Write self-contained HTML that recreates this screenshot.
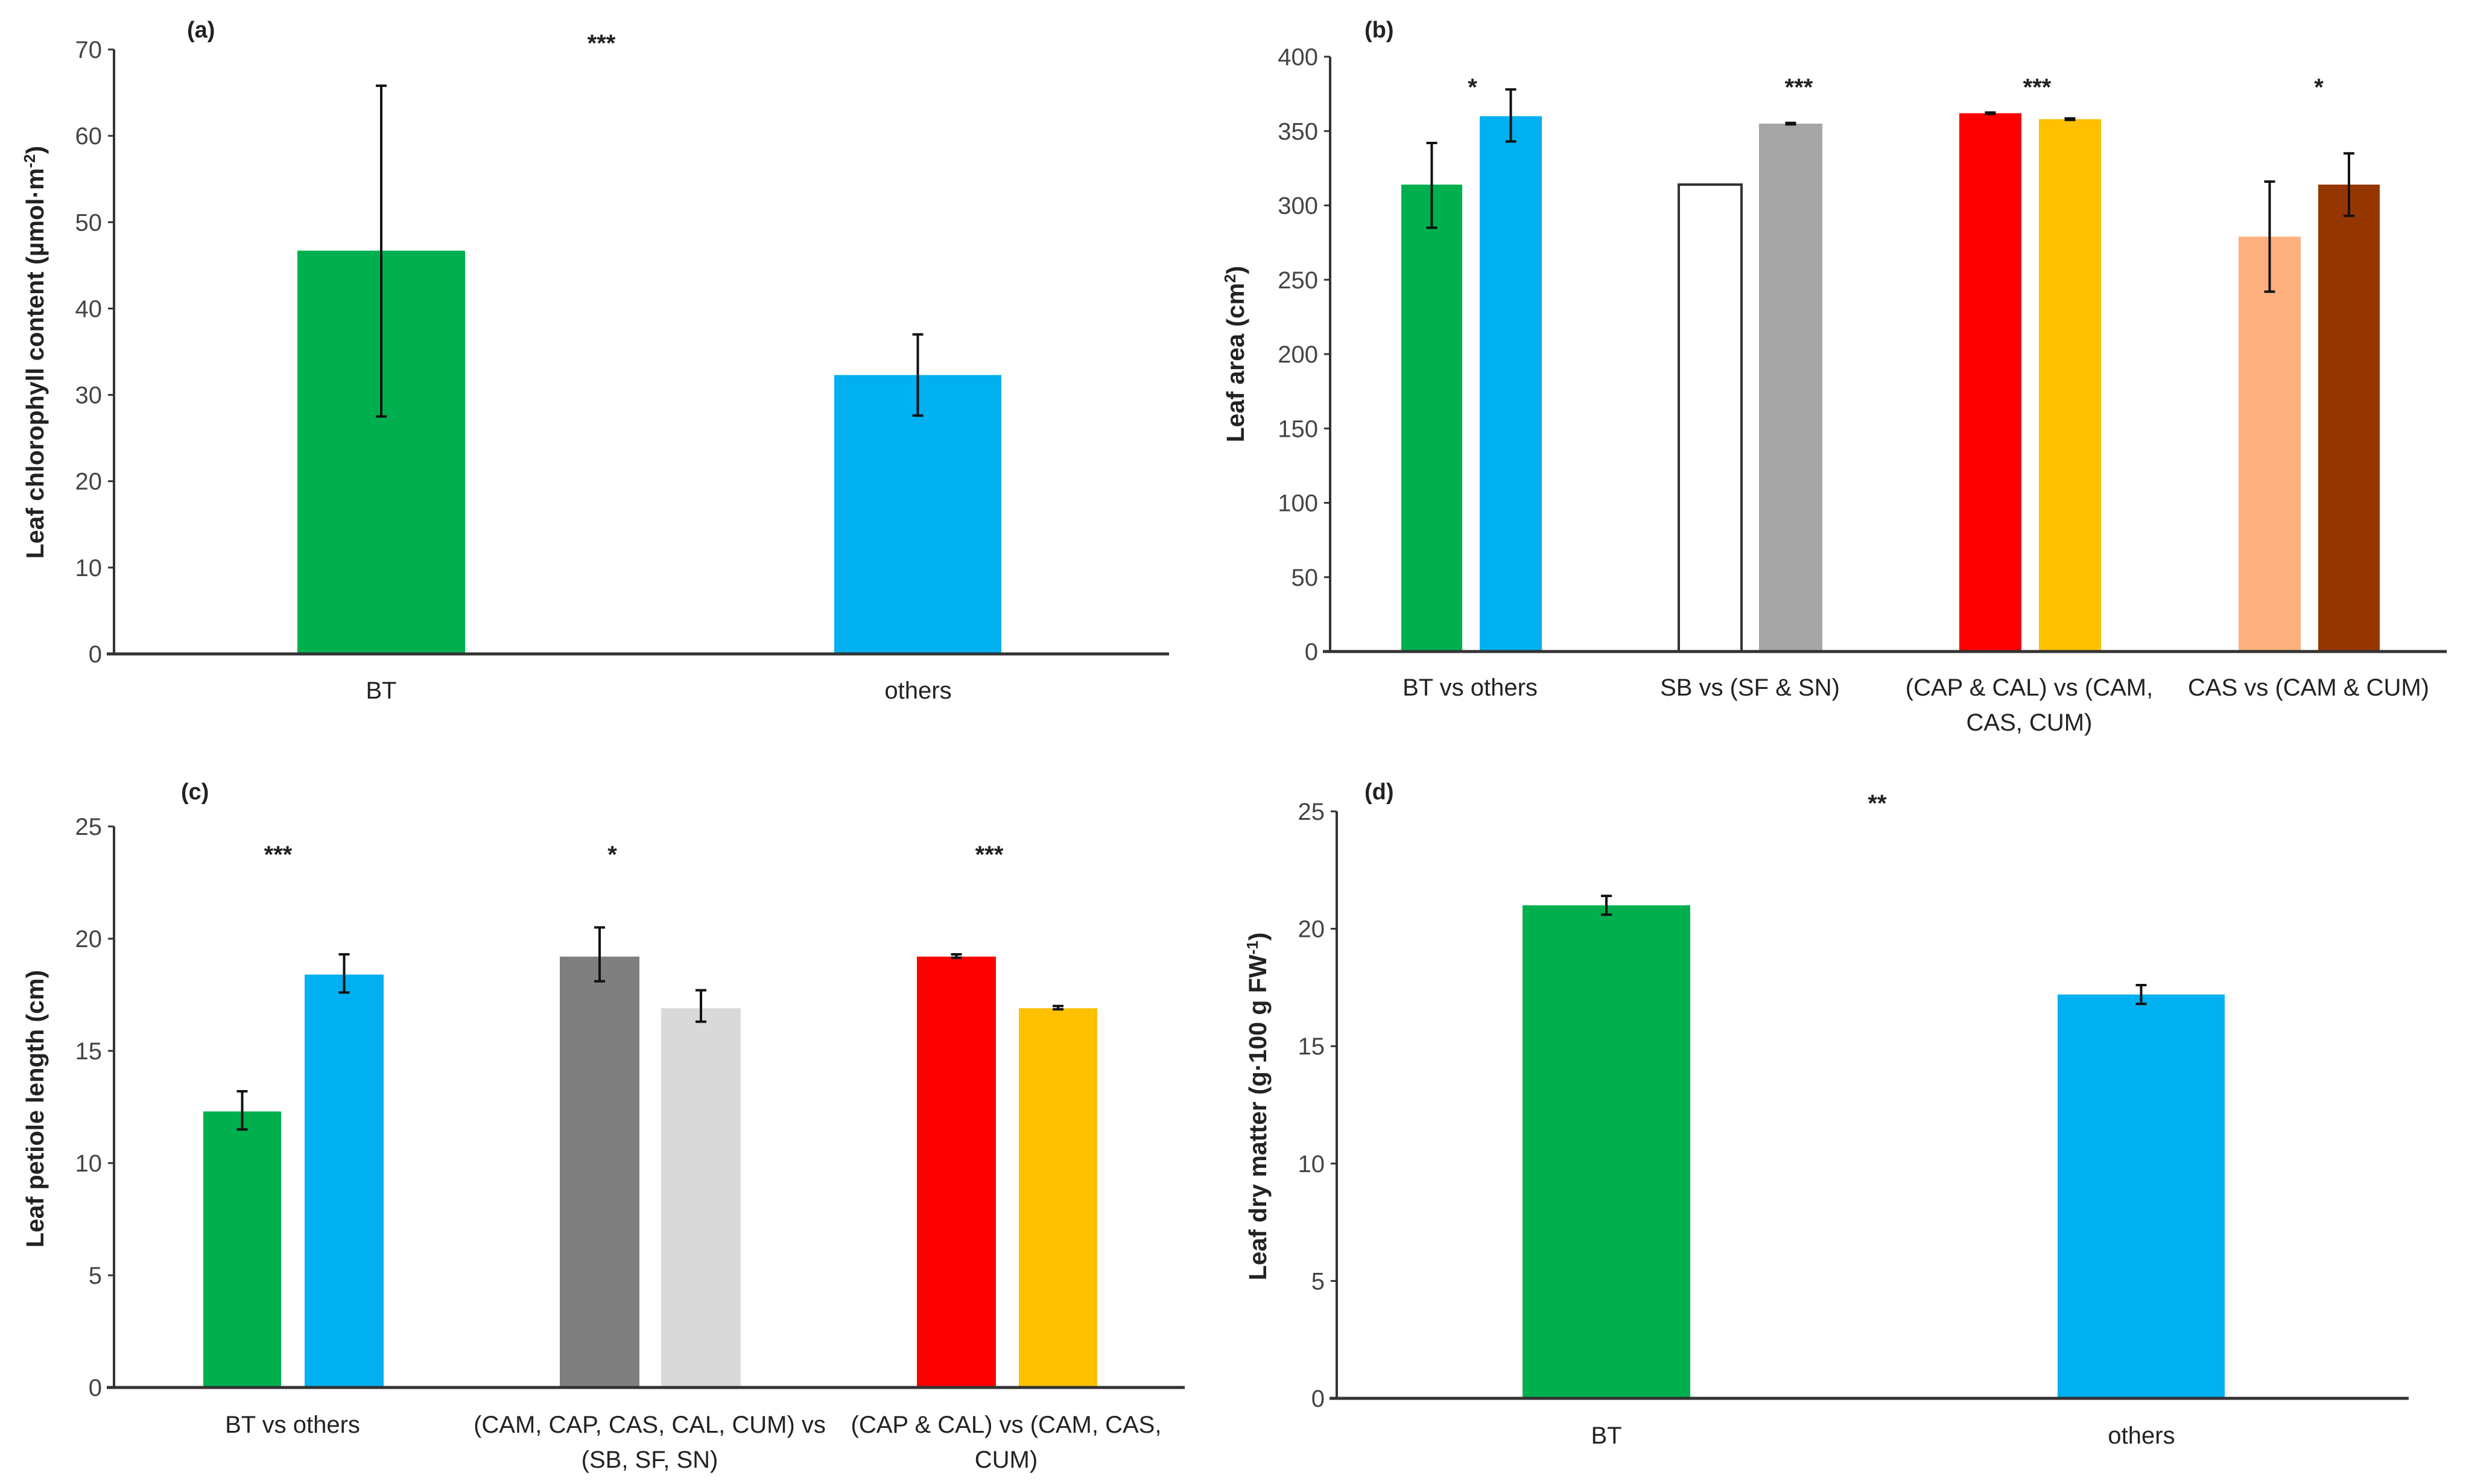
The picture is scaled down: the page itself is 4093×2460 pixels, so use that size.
<!DOCTYPE html>
<html><head><meta charset="utf-8"><style>
html,body{margin:0;padding:0;background:#fff;}
svg{display:block;}
text{font-family:"Liberation Sans Narrow","Liberation Sans",sans-serif;fill:#222;}
.tick{font-size:40px;fill:#444;}
.cat{font-size:40px;}
.ytitle{font-family:"Liberation Sans",sans-serif;font-weight:bold;font-size:41px;}
.star{font-size:40px;font-weight:bold;}
.ptitle{font-size:38px;font-weight:bold;}
</style></head><body>
<svg id="fig" width="4093" height="2460" viewBox="0 0 4093 2460" xmlns="http://www.w3.org/2000/svg"></svg>
<script>
// Panel (a)
const aCats = ["BT","others"];
const aVals = [46.7, 32.3];
const aLo = [27.5, 27.6];
const aHi = [65.8, 37.0];
const aTicks = [0,10,20,30,40,50,60,70];
// Panel (b)
const bCats = [["BT vs others"],["SB vs (SF & SN)"],["(CAP & CAL) vs (CAM,","CAS, CUM)"],["CAS vs (CAM & CUM)"]];
const bVals = [314, 360, 314, 355, 362, 358, 279, 314];
const bLo = [285, 343, 314, 354.5, 361.5, 357.5, 242, 293];
const bHi = [342, 378, 314, 355.5, 362.5, 358.5, 316, 335];
const bTicks = [0,50,100,150,200,250,300,350,400];
const bStars = ["*","***","***","*"];
// Panel (c)
const cCats = [["BT vs others"],["(CAM, CAP, CAS, CAL, CUM) vs","(SB, SF, SN)"],["(CAP & CAL) vs (CAM, CAS,","CUM)"]];
const cVals = [12.3, 18.4, 19.2, 16.9, 19.2, 16.9];
const cLo = [11.5, 17.6, 18.1, 16.3, 19.15, 16.85];
const cHi = [13.2, 19.3, 20.5, 17.7, 19.3, 17.0];
const cTicks = [0,5,10,15,20,25];
const cStars = ["***","*","***"];
// Panel (d)
const dCats = ["BT","others"];
const dVals = [21.0, 17.2];
const dLo = [20.6, 16.8];
const dHi = [21.4, 17.6];
const dTicks = [0,5,10,15,20,25];

const NS="http://www.w3.org/2000/svg";
const svg=document.getElementById('fig');
function mk(tag,attrs,parent){const e=document.createElementNS(NS,tag);for(const k in attrs)e.setAttribute(k,attrs[k]);(parent||svg).appendChild(e);return e;}

function panel(o){
  const g=mk('g',{});
  
  
  const max=o.ticks[o.ticks.length-1];
  const y=v=>o.y0-(v/max)*(o.y0-o.yTop);
  o.ticks.forEach(t=>{
    const tl=mk('line',{x1:o.x0-10,x2:o.x0,y1:y(t),y2:y(t),stroke:'#333','stroke-width':3},g);
    
    
    const tx=mk('text',{x:o.x0-20,y:y(t)+14,'text-anchor':'end',class:'tick'},g);
    tx.textContent=t;
    
    
  });
  o.vals.forEach((v,i)=>{
    const [bx,bw]=o.bars[i];
    const r=mk('rect',{x:bx,y:y(v),width:bw,height:o.y0-y(v),fill:o.colors[i]},g);
    if(o.colors[i]==='#fff'){r.setAttribute('stroke','#333');r.setAttribute('stroke-width',4);}
    
    
    const cx=bx+bw/2;
    if(o.hi[i]-o.lo[i]>0){
      const e=mk('path',{d:`M${cx},${y(o.hi[i])}V${y(o.lo[i])}M${cx-9},${y(o.hi[i])}h18M${cx-9},${y(o.lo[i])}h18`,stroke:'#111','stroke-width':4,fill:'none'},g);
      
      
    }
  });
  const ya=mk('line',{x1:o.x0,x2:o.x0,y1:o.yTop,y2:o.y0,stroke:'#333','stroke-width':4},g);
  
  
  const xa=mk('line',{x1:o.x0-12,x2:o.x1,y1:o.y0,y2:o.y0,stroke:'#333','stroke-width':5},g);
  
  
  o.cats.forEach((c,i)=>{
    const lines=Array.isArray(c)?c:[c];
    lines.forEach((ln,j)=>{
      const t=mk('text',{x:o.catX[i],y:o.catY+j*58,'text-anchor':'middle',class:'cat'},g);
      t.textContent=ln;
      
      
    });
  });
  o.stars.forEach((s,i)=>{
    const t=mk('text',{x:o.starX[i],y:o.starY,'text-anchor':'middle',class:'star'},g);
    t.textContent=s;
    
    
  });
  const pt=mk('text',{x:o.ptX,y:o.ptY,class:'ptitle'},g);
  pt.textContent=o.ptitle;
  
  
  const yt=mk('text',{x:0,y:0,'text-anchor':'middle',class:'ytitle',transform:`translate(${o.ytX},${o.ytY}) rotate(-90)`},g);
  yt.innerHTML=o.ytitle;
  
  
}

panel({name:'panel-a',x0:189,x1:1938,yTop:82,y0:1084,ticks:aTicks,vals:aVals,lo:aLo,hi:aHi,
  bars:[[493,278],[1383,277]],colors:['#00b04f','#00b0f0'],cats:aCats,catX:[632,1522],catY:1158,
  stars:['***'],starX:[997],starY:85,ptitle:'(a)',ptX:310,ptY:62,ytX:72,ytY:584,
  ytitle:'Leaf chlorophyll content (µmol·m<tspan dy="-14" font-size="26">-2</tspan><tspan dy="14">)</tspan>'});
panel({name:'panel-b',x0:2205,x1:4056,yTop:94,y0:1080,ticks:bTicks,vals:bVals,lo:bLo,hi:bHi,
  bars:[[2323,101],[2453,103],[2783,104],[2916,105],[3248,103],[3380,103],[3711,103],[3843,102]],
  colors:['#00b04f','#00b0f0','#fff','#a6a6a6','#ff0000','#ffc000','#ffb07f','#953600'],
  cats:bCats,catX:[2437,2901,3364,3827],catY:1153,
  stars:bStars,starX:[2441,2982,3377,3844],starY:158,ptitle:'(b)',ptX:2262,ptY:62,ytX:2062,ytY:587,
  ytitle:'Leaf area (cm<tspan dy="-14" font-size="26">2</tspan><tspan dy="14">)</tspan>'});
panel({name:'panel-c',x0:189,x1:1964,yTop:1370,y0:2300,ticks:cTicks,vals:cVals,lo:cLo,hi:cHi,
  bars:[[337,129],[505,131],[928,132],[1096,132],[1520,131],[1689,130]],
  colors:['#00b04f','#00b0f0','#7f7f7f','#d9d9d9','#ff0000','#ffc000'],
  cats:cCats,catX:[485,1077,1668],catY:2375,
  stars:cStars,starX:[461,1015,1640],starY:1430,ptitle:'(c)',ptX:300,ptY:1325,ytX:72,ytY:1838,
  ytitle:'Leaf petiole length (cm)'});
panel({name:'panel-d',x0:2216,x1:3993,yTop:1345,y0:2318,ticks:dTicks,vals:dVals,lo:dLo,hi:dHi,
  bars:[[2524,278],[3411,277]],colors:['#00b04f','#00b0f0'],cats:dCats,catX:[2663,3550],catY:2393,
  stars:['**'],starX:[3112],starY:1345,ptitle:'(d)',ptX:2262,ptY:1325,ytX:2099,ytY:1834,
  ytitle:'Leaf dry matter (g·100 g FW<tspan dy="-14" font-size="26">-1</tspan><tspan dy="14">)</tspan>'});
</script>
</body></html>
